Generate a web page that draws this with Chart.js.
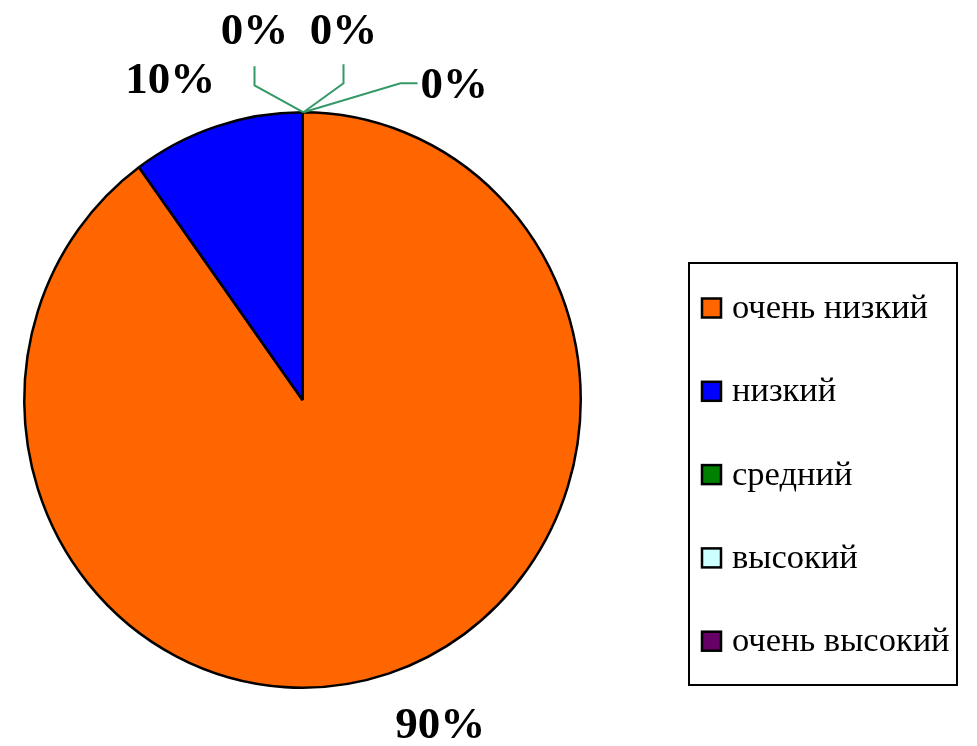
<!DOCTYPE html>
<html><head><meta charset="utf-8">
<script src="https://cdn.jsdelivr.net/npm/chart.js@4/dist/chart.umd.min.js"></script>
<style>html,body{margin:0;padding:0;background:#fff;}#wrap{width:977px;height:746px;}</style>
</head><body><div id="wrap"><canvas id="c" width="977" height="746"></canvas></div>
<script>
const categories = ['очень низкий', 'низкий', 'средний', 'высокий', 'очень высокий'];
const values = [90, 10, 0, 0, 0];
const percentLabels = ['90%', '10%', '0%', '0%', '0%'];
const colors = ['#FF6600', '#0000FF', '#008000', '#CCFFFF', '#660066'];

const SERIF = '"Liberation Serif", "Times New Roman", serif';
const Y_SCALE = 289 / 279.5;

const ellipsePlugin = {
  id: 'ellipse',
  beforeDatasetsDraw(chart) {
    const a = chart.getDatasetMeta(0).data[0];
    const ctx = chart.ctx;
    ctx.save();
    ctx.translate(a.x, a.y);
    ctx.scale(1, Y_SCALE);
    ctx.translate(-a.x, -a.y);
  },
  afterDatasetsDraw(chart) {
    chart.ctx.restore();
  }
};

const labelPlugin = {
  id: 'pctLabels',
  afterDraw(chart) {
    const ctx = chart.ctx;
    const arcs = chart.getDatasetMeta(0).data;
    const cx = arcs[0].x, cy = arcs[0].y, r = arcs[0].outerRadius;
    const ry = r * Y_SCALE;
    const topX = cx + 1, topY = cy - ry;
    ctx.save();
    ctx.font = 'bold 45px ' + SERIF;
    ctx.fillStyle = '#000';
    ctx.textBaseline = 'alphabetic';
    ctx.textAlign = 'center';
    ctx.fillText(percentLabels[0], cx + r * 0.495, cy + ry * 1.175);
    ctx.fillText(percentLabels[1], cx - r * 0.475, topY - 19);
    ctx.strokeStyle = '#339966';
    ctx.lineWidth = 2;
    const leaders = [
      [[-49, -27], [-49, -46]],
      [[40, -29], [40, -48]],
      [[97, -29], [114, -29]]
    ];
    leaders.forEach(l => {
      ctx.beginPath();
      ctx.moveTo(topX, topY);
      ctx.lineTo(topX + l[0][0], topY + l[0][1]);
      ctx.lineTo(topX + l[1][0], topY + l[1][1]);
      ctx.stroke();
    });
    ctx.textAlign = 'center';
    ctx.fillText(percentLabels[2], topX - 49, topY - 68);
    ctx.fillText(percentLabels[3], topX + 40, topY - 68);
    ctx.textAlign = 'left';
    ctx.fillText(percentLabels[4], topX + 117, topY - 14);
    ctx.restore();
  }
};

const legendPlugin = {
  id: 'boxLegend',
  afterDraw(chart) {
    const ctx = chart.ctx;
    const bx = 689, by = 263, bw = 268, bh = 422;
    ctx.save();
    ctx.strokeStyle = '#000';
    ctx.lineWidth = 2;
    ctx.strokeRect(bx, by, bw, bh);
    ctx.font = '34.5px ' + SERIF;
    ctx.textBaseline = 'middle';
    ctx.textAlign = 'left';
    chart.data.labels.forEach((lab, i) => {
      const yc = 308 + i * 83.3;
      ctx.fillStyle = colors[i];
      ctx.fillRect(702, yc - 9.5, 19, 19);
      ctx.lineWidth = 2.5;
      ctx.strokeStyle = '#000';
      ctx.strokeRect(702, yc - 9.5, 19, 19);
      ctx.fillStyle = '#000';
      ctx.fillText(lab, 732, yc + 1);
    });
    ctx.restore();
  }
};

new Chart(document.getElementById('c'), {
  type: 'pie',
  data: {
    labels: categories,
    datasets: [{
      data: values,
      backgroundColor: colors,
      borderColor: '#000',
      borderWidth: 2.5
    }]
  },
  options: {
    responsive: false,
    animation: false,
    layout: { padding: { left: 23, right: 395, top: 120.5, bottom: 66.5 } },
    plugins: { legend: { display: false }, tooltip: { enabled: false } }
  },
  plugins: [ellipsePlugin, labelPlugin, legendPlugin]
});
</script>
</body></html>
